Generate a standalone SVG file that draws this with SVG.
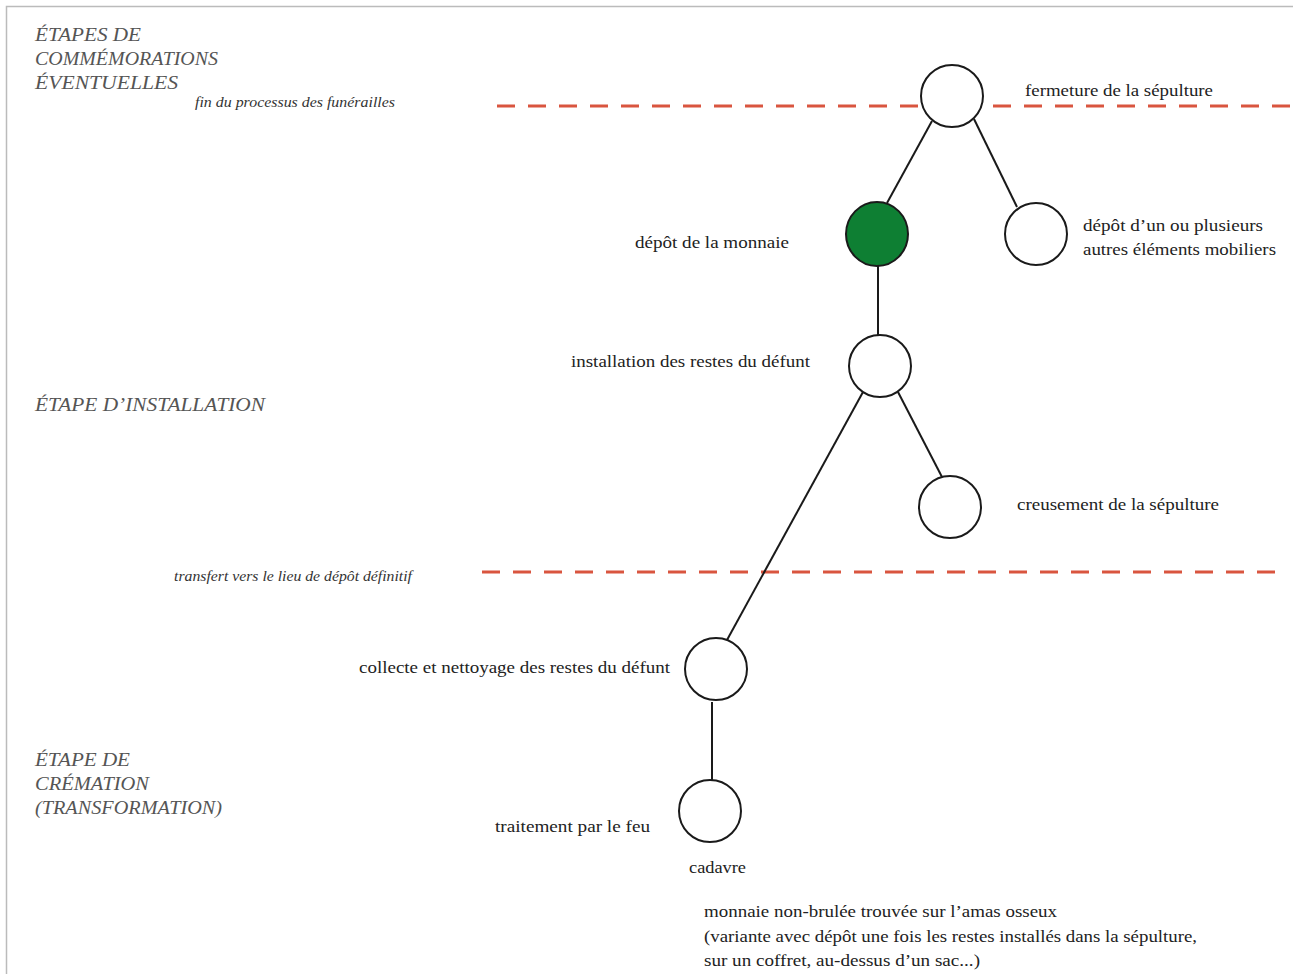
<svg xmlns="http://www.w3.org/2000/svg" width="1293" height="974" viewBox="0 0 1293 974">
<style>
.lbl{font-family:"Liberation Serif","Times New Roman",serif;font-size:16px;fill:#222}
.stage{font-family:"Liberation Serif","Times New Roman",serif;font-size:18px;font-style:italic;fill:#555}
.note{font-family:"Liberation Serif","Times New Roman",serif;font-size:15px;font-style:italic;fill:#333}
.node{fill:#fff;stroke:#1a1a1a;stroke-width:2}
.edge{stroke:#1a1a1a;stroke-width:2;fill:none}
.limit{stroke:#d9553f;stroke-width:3;stroke-dasharray:18 13;fill:none}
</style>
<rect x="0" y="0" width="1293" height="974" fill="#fff"/>
<path d="M6.5 974 V6.5 H1293" fill="none" stroke="#bbb" stroke-width="1.5"/>

<g id="limits">
<line class="limit" x1="497" y1="106" x2="1290" y2="106"/>
<line class="limit" x1="482" y1="572" x2="1280" y2="572"/>
</g>

<g id="stages">
<text class="stage" x="35" y="41" textLength="106" lengthAdjust="spacingAndGlyphs">ÉTAPES DE</text>
<text class="stage" x="35" y="65" textLength="183" lengthAdjust="spacingAndGlyphs">COMMÉMORATIONS</text>
<text class="stage" x="35" y="89" textLength="143" lengthAdjust="spacingAndGlyphs">ÉVENTUELLES</text>
<text class="note" x="195" y="107" textLength="200" lengthAdjust="spacingAndGlyphs">fin du processus des funérailles</text>
<text class="stage" x="35" y="411" textLength="230" lengthAdjust="spacingAndGlyphs">ÉTAPE D’INSTALLATION</text>
<text class="note" x="174" y="581" textLength="238" lengthAdjust="spacingAndGlyphs">transfert vers le lieu de dépôt définitif</text>
<text class="stage" x="35" y="766" textLength="95" lengthAdjust="spacingAndGlyphs">ÉTAPE DE</text>
<text class="stage" x="35" y="790" textLength="114" lengthAdjust="spacingAndGlyphs">CRÉMATION</text>
<text class="stage" x="35" y="814" textLength="187" lengthAdjust="spacingAndGlyphs">(TRANSFORMATION)</text>
</g>

<g id="connectors">
<line class="edge" x1="932" y1="121" x2="887" y2="203"/>
<line class="edge" x1="974" y1="119" x2="1017" y2="207"/>
<line class="edge" x1="878" y1="266" x2="878" y2="335"/>
<line class="edge" x1="898" y1="392" x2="942" y2="477"/>
<line class="edge" x1="863" y1="392" x2="727" y2="640"/>
<line class="edge" x1="712" y1="702" x2="712" y2="780"/>
</g>

<g id="n-fermeture">
<circle class="node" cx="952" cy="96" r="31"/>
<text class="lbl" x="1025" y="96" textLength="188" lengthAdjust="spacingAndGlyphs">fermeture de la sépulture</text>
</g>
<g id="n-monnaie">
<ellipse class="node" cx="877" cy="234" rx="31" ry="32" style="fill:#0e7f33"/>
<text class="lbl" x="635" y="248" textLength="154" lengthAdjust="spacingAndGlyphs">dépôt de la monnaie</text>
</g>
<g id="n-mobiliers">
<circle class="node" cx="1036" cy="234" r="31"/>
<text class="lbl" x="1083" y="231" textLength="180" lengthAdjust="spacingAndGlyphs">dépôt d’un ou plusieurs</text>
<text class="lbl" x="1083" y="255" textLength="193" lengthAdjust="spacingAndGlyphs">autres éléments mobiliers</text>
</g>
<g id="n-installation">
<circle class="node" cx="880" cy="366" r="31"/>
<text class="lbl" x="571" y="367" textLength="239" lengthAdjust="spacingAndGlyphs">installation des restes du défunt</text>
</g>
<g id="n-creusement">
<circle class="node" cx="950" cy="507" r="31"/>
<text class="lbl" x="1017" y="510" textLength="202" lengthAdjust="spacingAndGlyphs">creusement de la sépulture</text>
</g>
<g id="n-collecte">
<circle class="node" cx="716" cy="669" r="31"/>
<text class="lbl" x="359" y="673" textLength="311" lengthAdjust="spacingAndGlyphs">collecte et nettoyage des restes du défunt</text>
</g>
<g id="n-traitement">
<circle class="node" cx="710" cy="811" r="31"/>
<text class="lbl" x="495" y="832" textLength="155" lengthAdjust="spacingAndGlyphs">traitement par le feu</text>
<text class="lbl" x="689" y="873" textLength="57" lengthAdjust="spacingAndGlyphs">cadavre</text>
</g>

<g id="comment">
<text class="lbl" x="704" y="917" textLength="353" lengthAdjust="spacingAndGlyphs">monnaie non-brulée trouvée sur l’amas osseux</text>
<text class="lbl" x="704" y="942" textLength="493" lengthAdjust="spacingAndGlyphs">(variante avec dépôt une fois les restes installés dans la sépulture,</text>
<text class="lbl" x="704" y="966" textLength="276" lengthAdjust="spacingAndGlyphs">sur un coffret, au-dessus d’un sac...)</text>
</g>
</svg>
